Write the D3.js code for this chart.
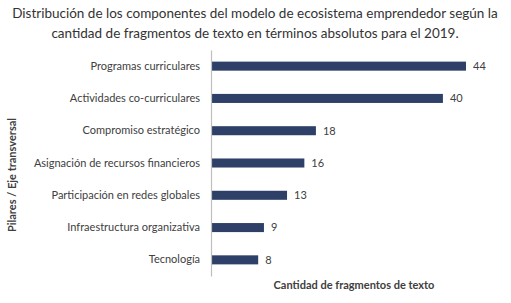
<!DOCTYPE html>
<html><head><meta charset="utf-8">
<script src="https://cdn.jsdelivr.net/npm/d3@7/dist/d3.min.js"></script>
<style>body{margin:0;background:#fff}svg{display:block}text{font-family:Lato,"Open Sans",sans-serif}</style>
</head><body>
<svg id="c" width="511" height="303"></svg>
<script>
const categories = ["Programas curriculares","Actividades co-curriculares","Compromiso estratégico","Asignación de recursos financieros","Participación en redes globales","Infraestructura organizativa","Tecnología"];
const values = [44,40,18,16,13,9,8];
const titleLines = ["Distribución de los componentes del modelo de ecosistema emprendedor según la","cantidad de fragmentos de texto en términos absolutos para el 2019."];
const xTitle = "Cantidad de fragmentos de texto";
const yTitle = "Pilares / Eje transversal";

const svg = d3.select("#c");
const m = {left:212, top:50, bottom:276};
const x = d3.scaleLinear().domain([0,44]).range([m.left, 466]);
const y = d3.scaleBand().domain(categories).range([m.top, m.bottom]).paddingInner(0.72).paddingOuter(0.36);

svg.append("g").selectAll("text").data(titleLines).join("text")
  .attr("x",255).attr("y",(d,i)=>18+i*20).attr("text-anchor","middle")
  .attr("font-size",13.5).attr("fill","#333").text(d=>d);

svg.append("g").selectAll("rect").data(values).join("rect")
  .attr("x",x(0)).attr("y",(d,i)=>y(categories[i]))
  .attr("width",d=>x(d)-x(0)).attr("height",y.bandwidth())
  .attr("fill","#2e4068");

const ax = svg.append("g").attr("transform",`translate(${m.left-1},0)`).call(d3.axisLeft(y).tickSize(0).tickPadding(11));
ax.select(".domain").attr("stroke","#bfbfbf").attr("stroke-width",1.2);
ax.selectAll("text").attr("font-size",11).attr("fill","#404040").attr("font-family","Lato");

svg.append("g").selectAll("text").data(values).join("text")
  .attr("x",d=>x(d)+7).attr("y",(d,i)=>y(categories[i])+y.bandwidth()/2).attr("dy","0.35em")
  .attr("font-size",11).attr("fill","#404040").text(d=>d);

svg.append("text").attr("x",354).attr("y",289).attr("text-anchor","middle")
  .attr("font-size",11).attr("font-weight","bold").attr("fill","#404040").text(xTitle);
svg.append("text").attr("transform","translate(16,175) rotate(-90)").attr("text-anchor","middle")
  .attr("font-size",11).attr("font-weight","bold").attr("fill","#404040").text(yTitle);
</script>
</body></html>
